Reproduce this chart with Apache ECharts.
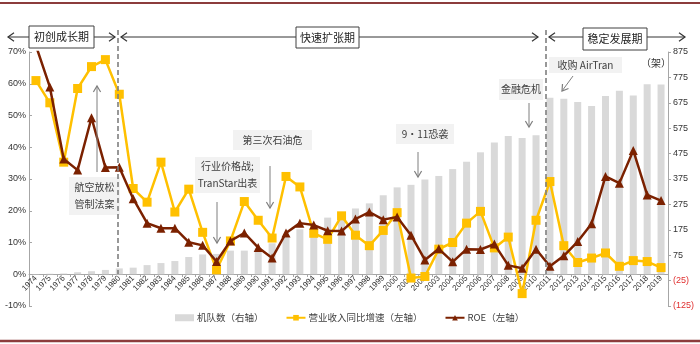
<!DOCTYPE html>
<html><head><meta charset="utf-8">
<script src="https://cdn.jsdelivr.net/npm/echarts@6/dist/echarts.min.js"></script>
<style>html,body{margin:0;padding:0;background:#fff}#c{width:700px;height:344px}</style>
</head><body><div id="c"></div>
<script>
const years = ['1974','1975','1976','1977','1978','1979','1980','1981','1982','1983','1984','1985','1986','1987','1988','1989','1990','1991','1992','1993','1994','1995','1996','1997','1998','1999','2000','2001','2002','2003','2004','2005','2006','2007','2008','2009','2010','2011','2012','2013','2014','2015','2016','2017','2018','2019'];
const fleet = [1,2,3,8,12,17,23,26,36,44,52,68,78,80,93,93,102,122,145,177,190,223,240,259,279,311,342,352,373,387,414,443,480,519,544,536,547,695,691,678,662,702,722,704,748,747];
const revenueGrowth = [61,54,35.3,58.5,65.4,67.6,56.7,27,22.7,35.3,19.6,26.8,13.2,1.4,10.5,22.9,17,11.4,30.8,27.5,12.9,11,18.4,12.3,9,13.8,19.4,-1.2,-0.7,7.9,10,16.1,19.8,8.3,11.7,-6.1,17,29.2,9,3.7,5.1,6.7,2.5,4.3,4,2.1];
const roe = [72,59,36.3,32.8,49.3,33.6,33.7,23.8,16.1,14.5,14.5,10.1,9.1,4,10.5,13,8.4,5.1,13,16.1,15.5,13.7,13.6,17.4,19.6,17.2,18,12.3,4.5,8,3.9,7.9,7.8,9.5,2.8,1.9,7.9,2.5,5.8,10.3,15.9,30.8,28.7,39,25,23.2];
const leftTicks = {min:-10, max:70, interval:10};
const rightTicks = {min:-125, max:875, interval:100};
const seriesNames = ['机队数（右轴）','营业收入同比增速（左轴）','ROE（左轴）'];

const FONT_CJK = '"Noto Sans CJK SC", sans-serif';
const FONT_NUM = '"Liberation Sans", Arial, sans-serif';
const GRAY_ARROW = '#7f7f7f';

function arrowHead(x, y, dir, size, color){
  let pts;
  const s = size;
  if(dir==='left') pts=[[x+s,y-s*0.7],[x,y],[x+s,y+s*0.7]];
  else if(dir==='right') pts=[[x-s,y-s*0.7],[x,y],[x-s,y+s*0.7]];
  else if(dir==='up') pts=[[x-s*0.6,y+s],[x,y],[x+s*0.6,y+s]];
  else pts=[[x-s*0.6,y-s],[x,y],[x+s*0.6,y-s]];
  return {type:'polyline', shape:{points:pts}, style:{stroke:color, lineWidth:1.2, fill:null}, z:100, silent:true};
}
function line(x1,y1,x2,y2,color,w,dash){
  return {type:'line', shape:{x1,y1,x2,y2}, style:{stroke:color, lineWidth:w||1, lineDash:dash||null}, z:100, silent:true};
}
function periodBox(x1,y1,x2,y2,text){
  return [
    {type:'rect', shape:{x:x1,y:y1,width:x2-x1,height:y2-y1}, style:{fill:'#fff', stroke:'#404040', lineWidth:1}, z:101, silent:true},
    {type:'text', x:(x1+x2)/2, y:(y1+y2)/2, style:{text, fill:'#222', font:'11px '+FONT_CJK, align:'center', verticalAlign:'middle'}, z:102, silent:true}
  ];
}
function noteBox(x1,y1,x2,y2,text,fs){
  return [
    {type:'rect', shape:{x:x1,y:y1,width:x2-x1,height:y2-y1}, style:{fill:'#f2f2f2'}, z:90, silent:true},
    {type:'text', x:(x1+x2)/2, y:(y1+y2)/2, style:{text, fill:'#404040', font:(fs||10)+'px '+FONT_CJK, align:'center', verticalAlign:'middle', lineHeight:17}, z:91, silent:true}
  ];
}

const graphics = [].concat(
  [line(0,3,700,3,'#8c3c3c',2), line(0,341,700,341,'#8c3c3c',2.5)],
  [line(8,37,29,37,'#333',1), arrowHead(8,37,'left',6,'#333')],
  periodBox(29,26,94,48,'初创成长期'),
  [line(94,37,115,37,'#333',1), arrowHead(115,37,'right',6,'#333')],
  [line(121,37,296,37,'#333',1), arrowHead(121,37,'left',6,'#333')],
  periodBox(296,27,359,48,'快速扩张期'),
  [line(359,37,538,37,'#333',1), arrowHead(538,37,'right',6,'#333')],
  [line(549,37,583,37,'#333',1), arrowHead(549,37,'left',6,'#333')],
  periodBox(583,28,647,50,'稳定发展期'),
  [line(647,37,685,37,'#333',1), arrowHead(685,37,'right',6,'#333')],
  [line(118,30,118,274,'#7f7f7f',1.6,[5,3]), line(546,30,546,274,'#7f7f7f',1.6,[5,3])],
  noteBox(69,177,120,215,'航空放松\n管制法案'),
  [line(97,172,97,86,GRAY_ARROW,1), arrowHead(97,86,'up',6,GRAY_ARROW)],
  noteBox(195,157,260,193,'行业价格战;\nTranStar出表'),
  [line(217,202,217,243,GRAY_ARROW,1), arrowHead(217,243,'down',6,GRAY_ARROW)],
  noteBox(233,130,312,150,'第三次石油危'),
  [line(270,166,270,208,GRAY_ARROW,1), arrowHead(270,208,'down',6,GRAY_ARROW)],
  noteBox(396,124,454,144,'9·11恐袭'),
  [line(418,152,418,177,GRAY_ARROW,1), arrowHead(418,177,'down',6,GRAY_ARROW)],
  noteBox(499,79,543,100,'金融危机'),
  [line(529,103,529,127,GRAY_ARROW,1), arrowHead(529,127,'down',6,GRAY_ARROW)],
  noteBox(549,57,622,73,'收购 AirTran'),
  [line(573,76,562,91,GRAY_ARROW,1),
   {type:'polyline', shape:{points:[[562.5,84],[562,91],[568.5,88.5]]}, style:{stroke:GRAY_ARROW,lineWidth:1.2,fill:null}, z:100, silent:true}],
  [{type:'text', x:656, y:63, style:{text:'（架）', fill:'#333', font:'10px '+FONT_CJK, align:'center', verticalAlign:'middle'}, z:100, silent:true}]
);

const chart = echarts.init(document.getElementById('c'), null, {renderer:'canvas'});
chart.setOption({
  animation:false,
  backgroundColor:'#fff',
  grid:{left:29, right:32, top:52, bottom:38, containLabel:false},
  legend:{
    data:[
      {name:seriesNames[0], icon:'rect'},
      {name:seriesNames[1]},
      {name:seriesNames[2]}
    ],
    left:170, top:308, itemGap:22, itemWidth:19, itemHeight:7,
    textStyle:{fontSize:9.5, color:'#404040', fontFamily:FONT_CJK, padding:[0,0,0,-2]}
  },
  xAxis:{
    type:'category', data:years, boundaryGap:true, position:'bottom', offset:-32,
    axisLine:{onZero:false, lineStyle:{color:'#a6a6a6', width:1}},
    axisTick:{show:true, length:3, lineStyle:{color:'#a6a6a6'}},
    axisLabel:{rotate:45, fontSize:8, color:'#333', margin:3, interval:0, fontFamily:FONT_NUM},
    splitLine:{show:false}
  },
  yAxis:[
    {type:'value', min:leftTicks.min, max:leftTicks.max, interval:leftTicks.interval, position:'left',
     axisLine:{show:true, lineStyle:{color:'#a6a6a6'}}, axisTick:{show:true, inside:true, length:3, lineStyle:{color:'#a6a6a6'}},
     axisLabel:{formatter:v=>v+'%', fontSize:9, color:'#333', margin:3, fontFamily:FONT_NUM},
     splitLine:{show:false}},
    {type:'value', min:rightTicks.min, max:rightTicks.max, interval:rightTicks.interval, position:'right',
     axisLine:{show:true, lineStyle:{color:'#a6a6a6'}}, axisTick:{show:true, length:3, lineStyle:{color:'#a6a6a6'}},
     axisLabel:{formatter:v=> v<0 ? '('+(-v)+')' : String(v), fontSize:9, margin:5, fontFamily:FONT_NUM,
       color:(v)=> (Number(v)<0 || String(v).indexOf('(')===0) ? '#e03030' : '#333'},
     splitLine:{show:false}}
  ],
  series:[
    {name:seriesNames[0], type:'bar', yAxisIndex:1, data:fleet, barWidth:7,
     itemStyle:{color:'#d9d9d9'}, z:1},
    {name:seriesNames[1], type:'line', yAxisIndex:0, data:revenueGrowth,
     symbol:'rect', symbolSize:9, lineStyle:{color:'#ffc000', width:2.5}, itemStyle:{color:'#ffc000'}, z:3},
    {name:seriesNames[2], type:'line', yAxisIndex:0, data:roe,
     symbol:'triangle', symbolSize:9, lineStyle:{color:'#7b2100', width:2.5}, itemStyle:{color:'#7b2100'}, z:4}
  ],
  graphic:graphics
});
</script></body></html>
